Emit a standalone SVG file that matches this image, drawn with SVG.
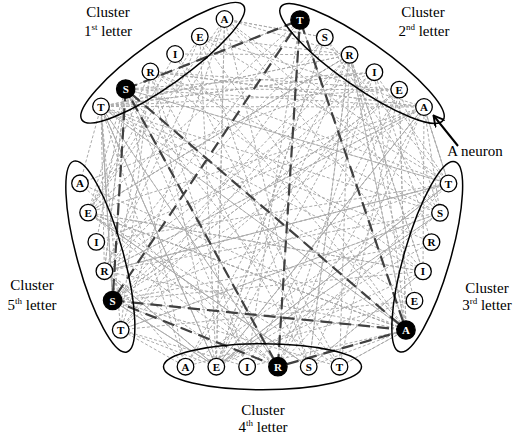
<svg xmlns="http://www.w3.org/2000/svg" width="518" height="441" viewBox="0 0 518 441">
<style>
.g{fill:none;stroke:#ababab;stroke-width:1;stroke-dasharray:3 2;stroke-linejoin:round}
.k{fill:none;stroke:#404040;stroke-width:2.2;stroke-dasharray:12 7;stroke-linejoin:round}
.cl{fill:none;stroke:#000;stroke-width:1.5}
.n{fill:#fff;stroke:#000;stroke-width:1.3}
.na{fill:#000;stroke:#000;stroke-width:1.3}
.nt{font-family:"Liberation Serif",serif;font-weight:bold;font-size:11px;text-anchor:middle;fill:#000}
.nta{font-family:"Liberation Serif",serif;font-weight:bold;font-size:11px;text-anchor:middle;fill:#fff}
.lb{font-family:"Liberation Serif",serif;font-size:15px;text-anchor:middle;fill:#000}
</style>
<defs>
<marker id="ah" viewBox="0 0 10 10" refX="9" refY="5" markerWidth="6" markerHeight="6" orient="auto" markerUnits="strokeWidth">
<path d="M0,0 L9,5 L0,10" fill="none" stroke="#000" stroke-width="1.6"/>
</marker>
</defs>
<g id="connectors">
<path class="g" d="M101 106.5L399.2 89.6L406 330L277.9 366.7L112.6 300.5L101 106.5L406 330L112.6 300.5L399.2 89.6L277.9 366.7L101 106.5"/>
<path class="g" d="M150.4 71.5L424 107L448.5 183.5L216.3 366.7L112.6 300.5L150.4 71.5L448.5 183.5L112.6 300.5L424 107L216.3 366.7L150.4 71.5"/>
<path class="g" d="M125.7 89L300 20L406 330L277.9 366.7L88.1 212.6L125.7 89L406 330L88.1 212.6L300 20L277.9 366.7L125.7 89"/>
<path class="g" d="M101 106.5L374.4 72.2L431.5 242.1L216.3 366.7L112.6 300.5L101 106.5L431.5 242.1L112.6 300.5L374.4 72.2L216.3 366.7L101 106.5"/>
<path class="g" d="M101 106.5L349.6 54.8L423 271.4L216.3 366.7L112.6 300.5L101 106.5L423 271.4L112.6 300.5L349.6 54.8L216.3 366.7L101 106.5"/>
<path class="g" d="M150.4 71.5L399.2 89.6L440 212.8L247.1 366.7L120.7 329.8L150.4 71.5L440 212.8L120.7 329.8L399.2 89.6L247.1 366.7L150.4 71.5"/>
<path class="g" d="M224.5 19L324.8 37.4L448.5 183.5L216.3 366.7L104.4 271.2L224.5 19L448.5 183.5L104.4 271.2L324.8 37.4L216.3 366.7L224.5 19"/>
<path class="g" d="M101 106.5L424 107L440 212.8L216.3 366.7L104.4 271.2L101 106.5L440 212.8L104.4 271.2L424 107L216.3 366.7L101 106.5"/>
<path class="g" d="M125.7 89L374.4 72.2L448.5 183.5L185.5 366.7L104.4 271.2L125.7 89L448.5 183.5L104.4 271.2L374.4 72.2L185.5 366.7L125.7 89"/>
<path class="g" d="M125.7 89L300 20L406 330L247.1 366.7L104.4 271.2L125.7 89L406 330L104.4 271.2L300 20L247.1 366.7L125.7 89"/>
<path class="g" d="M224.5 19L349.6 54.8L423 271.4L308.7 366.7L88.1 212.6L224.5 19L423 271.4L88.1 212.6L349.6 54.8L308.7 366.7L224.5 19"/>
<path class="g" d="M150.4 71.5L424 107L423 271.4L308.7 366.7L88.1 212.6L150.4 71.5L423 271.4L88.1 212.6L424 107L308.7 366.7L150.4 71.5"/>
<path class="g" d="M175.1 54L349.6 54.8L406 330L339.5 366.7L88.1 212.6L175.1 54L406 330L88.1 212.6L349.6 54.8L339.5 366.7L175.1 54"/>
<path class="g" d="M101 106.5L349.6 54.8L414.5 300.7L185.5 366.7L120.7 329.8L101 106.5L414.5 300.7L120.7 329.8L349.6 54.8L185.5 366.7L101 106.5"/>
<path class="g" d="M199.8 36.5L424 107L448.5 183.5L216.3 366.7L104.4 271.2L199.8 36.5L448.5 183.5L104.4 271.2L424 107L216.3 366.7L199.8 36.5"/>
<path class="g" d="M125.7 89L399.2 89.6L406 330L339.5 366.7L112.6 300.5L125.7 89L406 330L112.6 300.5L399.2 89.6L339.5 366.7L125.7 89"/>
<path class="g" d="M101 106.5L374.4 72.2L406 330L277.9 366.7L80 183.3L101 106.5L406 330L80 183.3L374.4 72.2L277.9 366.7L101 106.5"/>
<path class="g" d="M125.7 89L424 107L448.5 183.5L277.9 366.7L96.3 241.9L125.7 89L448.5 183.5L96.3 241.9L424 107L277.9 366.7L125.7 89"/>
<path class="g" d="M199.8 36.5L349.6 54.8L406 330L308.7 366.7L88.1 212.6L199.8 36.5L406 330L88.1 212.6L349.6 54.8L308.7 366.7L199.8 36.5"/>
<path class="g" d="M224.5 19L324.8 37.4L440 212.8L216.3 366.7L120.7 329.8L224.5 19L440 212.8L120.7 329.8L324.8 37.4L216.3 366.7L224.5 19"/>
<path class="k" d="M125.7 89L300 20L406 330L277.9 366.7L112.6 300.5L125.7 89L406 330L112.6 300.5L300 20L277.9 366.7L125.7 89"/>
<line x1="458" y1="146" x2="433.5" y2="115.5" stroke="#000" stroke-width="2" marker-end="url(#ah)"/>
</g>
<g id="cluster1">
<ellipse class="cl" cx="162.75" cy="62.75" rx="99" ry="23" transform="rotate(-35.3 162.75 62.75)"/>
<circle class="n" cx="101" cy="106.5" r="8.3"/><text class="nt" x="101" y="110.5">T</text>
<circle class="na" cx="125.7" cy="89" r="9.2"/><text class="nta" x="125.7" y="93">S</text>
<circle class="n" cx="150.4" cy="71.5" r="8.3"/><text class="nt" x="150.4" y="75.5">R</text>
<circle class="n" cx="175.1" cy="54" r="8.3"/><text class="nt" x="175.1" y="58">I</text>
<circle class="n" cx="199.8" cy="36.5" r="8.3"/><text class="nt" x="199.8" y="40.5">E</text>
<circle class="n" cx="224.5" cy="19" r="8.3"/><text class="nt" x="224.5" y="23">A</text>
<text class="lb" x="108" y="17">Cluster</text>
<text class="lb" x="108" y="36">1<tspan font-size="9" dy="-6">st</tspan><tspan dy="6"> letter</tspan></text>
</g>
<g id="cluster2">
<ellipse class="cl" cx="362" cy="63.5" rx="99" ry="23" transform="rotate(35 362 63.5)"/>
<circle class="na" cx="300" cy="20" r="9.2"/><text class="nta" x="300" y="24">T</text>
<circle class="n" cx="324.8" cy="37.4" r="8.3"/><text class="nt" x="324.8" y="41.4">S</text>
<circle class="n" cx="349.6" cy="54.8" r="8.3"/><text class="nt" x="349.6" y="58.8">R</text>
<circle class="n" cx="374.4" cy="72.2" r="8.3"/><text class="nt" x="374.4" y="76.2">I</text>
<circle class="n" cx="399.2" cy="89.6" r="8.3"/><text class="nt" x="399.2" y="93.6">E</text>
<circle class="n" cx="424" cy="107" r="8.3"/><text class="nt" x="424" y="111">A</text>
<text class="lb" x="423" y="17">Cluster</text>
<text class="lb" x="424" y="36">2<tspan font-size="9" dy="-6">nd</tspan><tspan dy="6"> letter</tspan></text>
<text class="lb" x="475" y="156">A neuron</text>
</g>
<g id="cluster3">
<ellipse class="cl" cx="427.25" cy="256.75" rx="99" ry="23" transform="rotate(-73.8 427.25 256.75)"/>
<circle class="n" cx="448.5" cy="183.5" r="8.3"/><text class="nt" x="448.5" y="187.5">T</text>
<circle class="n" cx="440" cy="212.8" r="8.3"/><text class="nt" x="440" y="216.8">S</text>
<circle class="n" cx="431.5" cy="242.1" r="8.3"/><text class="nt" x="431.5" y="246.1">R</text>
<circle class="n" cx="423" cy="271.4" r="8.3"/><text class="nt" x="423" y="275.4">I</text>
<circle class="n" cx="414.5" cy="300.7" r="8.3"/><text class="nt" x="414.5" y="304.7">E</text>
<circle class="na" cx="406" cy="330" r="9.2"/><text class="nta" x="406" y="334">A</text>
<text class="lb" x="487" y="293">Cluster</text>
<text class="lb" x="487" y="310">3<tspan font-size="9" dy="-6">rd</tspan><tspan dy="6"> letter</tspan></text>
</g>
<g id="cluster4">
<ellipse class="cl" cx="262.5" cy="366.7" rx="99" ry="23"/>
<circle class="n" cx="185.5" cy="366.7" r="8.3"/><text class="nt" x="185.5" y="370.7">A</text>
<circle class="n" cx="216.3" cy="366.7" r="8.3"/><text class="nt" x="216.3" y="370.7">E</text>
<circle class="n" cx="247.1" cy="366.7" r="8.3"/><text class="nt" x="247.1" y="370.7">I</text>
<circle class="na" cx="277.9" cy="366.7" r="9.2"/><text class="nta" x="277.9" y="370.7">R</text>
<circle class="n" cx="308.7" cy="366.7" r="8.3"/><text class="nt" x="308.7" y="370.7">S</text>
<circle class="n" cx="339.5" cy="366.7" r="8.3"/><text class="nt" x="339.5" y="370.7">T</text>
<text class="lb" x="263" y="415">Cluster</text>
<text class="lb" x="263" y="432">4<tspan font-size="9" dy="-6">th</tspan><tspan dy="6"> letter</tspan></text>
</g>
<g id="cluster5">
<ellipse class="cl" cx="100.35" cy="256.55" rx="99" ry="23" transform="rotate(74.5 100.35 256.55)"/>
<circle class="n" cx="80" cy="183.3" r="8.3"/><text class="nt" x="80" y="187.3">A</text>
<circle class="n" cx="88.1" cy="212.6" r="8.3"/><text class="nt" x="88.1" y="216.6">E</text>
<circle class="n" cx="96.3" cy="241.9" r="8.3"/><text class="nt" x="96.3" y="245.9">I</text>
<circle class="n" cx="104.4" cy="271.2" r="8.3"/><text class="nt" x="104.4" y="275.2">R</text>
<circle class="na" cx="112.6" cy="300.5" r="9.2"/><text class="nta" x="112.6" y="304.5">S</text>
<circle class="n" cx="120.7" cy="329.8" r="8.3"/><text class="nt" x="120.7" y="333.8">T</text>
<text class="lb" x="32" y="290">Cluster</text>
<text class="lb" x="32" y="310">5<tspan font-size="9" dy="-6">th</tspan><tspan dy="6"> letter</tspan></text>
</g>
</svg>
